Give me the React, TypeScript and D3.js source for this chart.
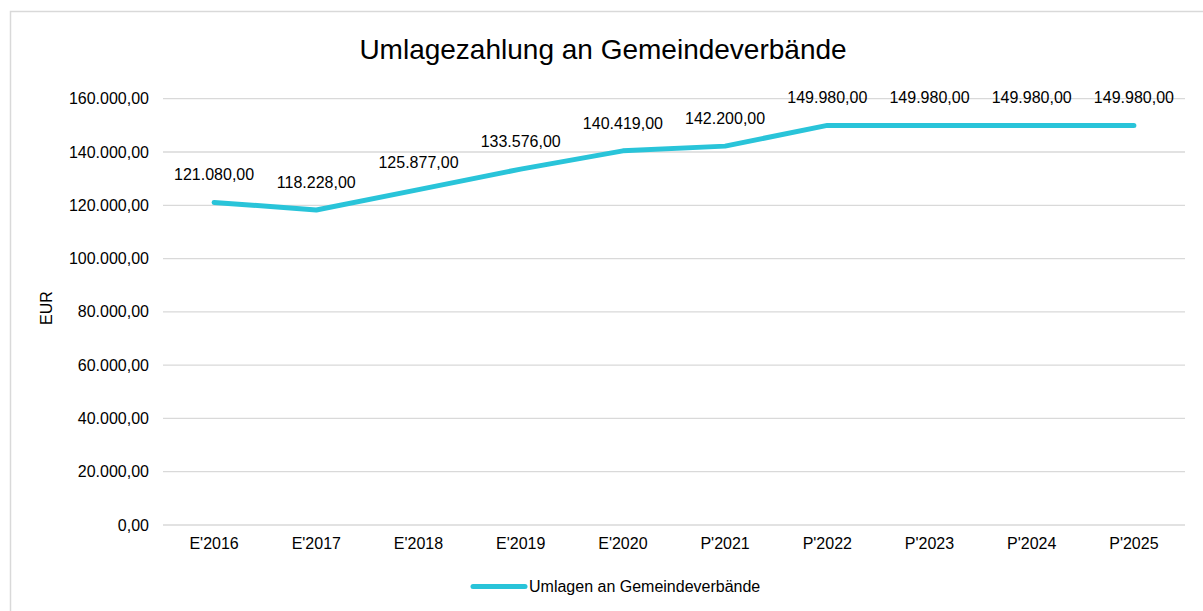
import { useEffect, useRef } from 'react';
import * as d3 from 'd3';

const categories = ["E'2016", "E'2017", "E'2018", "E'2019", "E'2020", "P'2021", "P'2022", "P'2023", "P'2024", "P'2025"];
const values = [121080, 118228, 125877, 133576, 140419, 142200, 149980, 149980, 149980, 149980];
const yTicks = [0, 20000, 40000, 60000, 80000, 100000, 120000, 140000, 160000];
const seriesName = 'Umlagen an Gemeindeverbände';
const chartTitle = 'Umlagezahlung an Gemeindeverbände';
const yTitle = 'EUR';

const FONT = '"Liberation Sans", Arial, sans-serif';
const LINE_COLOR = '#29c4d9';
const GRID_COLOR = '#d9d9d9';

// german number format: 121.080,00
const fmt = (v: number) => {
  const [int, dec] = v.toFixed(2).split('.');
  return int.replace(/\B(?=(\d{3})+(?!\d))/g, '.') + ',' + dec;
};

export default function App() {
  const svgRef = useRef<SVGSVGElement>(null);

  useEffect(() => {
    if (!svgRef.current) return;
    const width = 1203;
    const height = 611;
    const margin = { top: 98.7, right: 18, bottom: 86, left: 163 };

    const svg = d3.select(svgRef.current);
    svg.selectAll('*').remove();

    svg.append('rect')
      .attr('x', 10.5).attr('y', 11.5)
      .attr('width', 1200).attr('height', 620)
      .attr('fill', '#fff')
      .attr('stroke', GRID_COLOR)
      .attr('stroke-width', 1.5);

    const x = d3.scaleBand()
      .domain(categories)
      .range([margin.left, width - margin.right]);

    const y = d3.scaleLinear()
      .domain([0, 160000])
      .range([525, margin.top]);

    // gridlines
    svg.append('g')
      .selectAll('line')
      .data(yTicks)
      .join('line')
      .attr('x1', margin.left).attr('x2', width - margin.right)
      .attr('y1', d => y(d)).attr('y2', d => y(d))
      .attr('stroke', GRID_COLOR)
      .attr('stroke-width', 1.3);

    // y tick labels
    svg.append('g')
      .selectAll('text')
      .data(yTicks)
      .join('text')
      .attr('x', 149)
      .attr('y', d => y(d))
      .attr('dy', '0.35em')
      .attr('text-anchor', 'end')
      .style('font-family', FONT)
      .style('font-size', '16px')
      .attr('fill', '#000')
      .text(d => fmt(d));

    // x labels
    svg.append('g')
      .selectAll('text')
      .data(categories)
      .join('text')
      .attr('x', d => (x(d) as number) + x.bandwidth() / 2)
      .attr('y', 549)
      .attr('text-anchor', 'middle')
      .style('font-family', FONT)
      .style('font-size', '16px')
      .attr('fill', '#000')
      .text(d => d);

    const line = d3.line<number>()
      .x((_, i) => (x(categories[i]) as number) + x.bandwidth() / 2)
      .y(d => y(d));

    svg.append('path')
      .datum(values)
      .attr('d', line)
      .attr('fill', 'none')
      .attr('stroke', LINE_COLOR)
      .attr('stroke-width', 5)
      .attr('stroke-linecap', 'round')
      .attr('stroke-linejoin', 'round');

    // data labels
    svg.append('g')
      .selectAll('text')
      .data(values)
      .join('text')
      .attr('x', (_, i) => (x(categories[i]) as number) + x.bandwidth() / 2)
      .attr('y', d => y(d) - 22)
      .attr('text-anchor', 'middle')
      .style('font-family', FONT)
      .style('font-size', '16px')
      .attr('fill', '#000')
      .text(d => fmt(d));

    // title
    svg.append('text')
      .attr('x', 603).attr('y', 59)
      .attr('text-anchor', 'middle')
      .style('font-family', FONT)
      .style('font-size', '28px')
      .attr('fill', '#000')
      .text(chartTitle);

    // y axis title
    svg.append('text')
      .attr('transform', `translate(52,${308}) rotate(-90)`)
      .attr('text-anchor', 'middle')
      .style('font-family', FONT)
      .style('font-size', '16px')
      .attr('fill', '#000')
      .text(yTitle);

    // legend
    const lg = svg.append('g');
    lg.append('line')
      .attr('x1', 473).attr('x2', 525)
      .attr('y1', 586.5).attr('y2', 586.5)
      .attr('stroke', LINE_COLOR)
      .attr('stroke-width', 5)
      .attr('stroke-linecap', 'round');
    lg.append('text')
      .attr('x', 529).attr('y', 592)
      .style('font-family', FONT)
      .style('font-size', '16px')
      .attr('fill', '#000')
      .text(seriesName);
  }, []);

  return (
    <div style={{ position: 'absolute', left: 0, top: 0 }}>
      <svg ref={svgRef} width={1203} height={611} style={{ display: 'block' }} />
    </div>
  );
}
